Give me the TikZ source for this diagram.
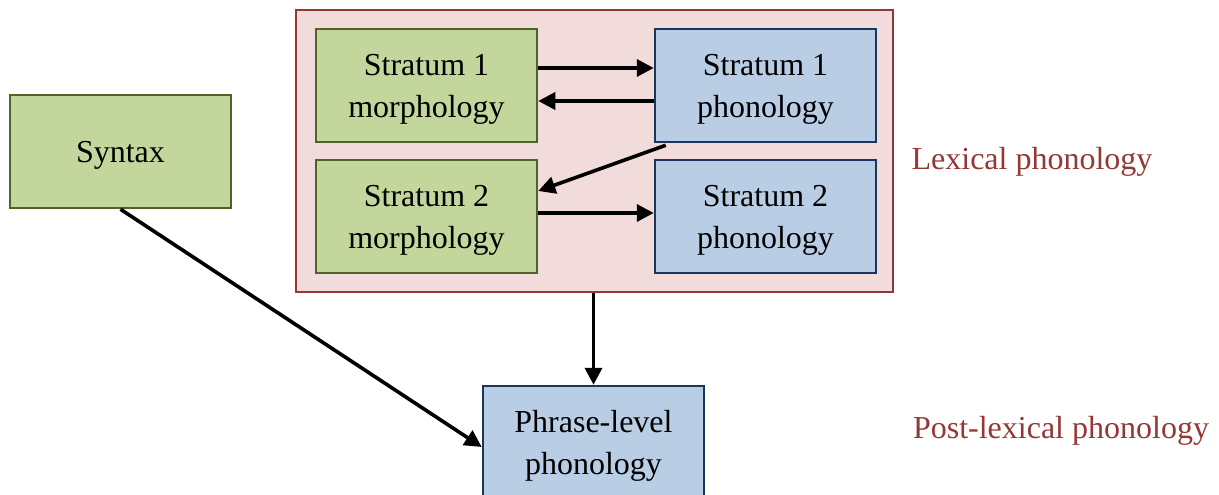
\documentclass[tikz,border=0pt]{standalone}
\usepackage{fontspec}
\setmainfont{Liberation Serif}
\usetikzlibrary{arrows.meta}
\definecolor{pinkfill}{HTML}{F2DCDB}
\definecolor{redline}{HTML}{953735}
\definecolor{greenfill}{HTML}{C3D69B}
\definecolor{greenline}{HTML}{4F6228}
\definecolor{bluefill}{HTML}{B9CDE5}
\definecolor{blueline}{HTML}{17375E}
\begin{document}
\begin{tikzpicture}[x=1pt,y=-1pt,
  box/.style={rectangle,line width=2.5pt,minimum width=221pt,minimum height=113pt,inner sep=0pt},
  gbox/.style={box,draw=greenline,fill=greenfill},
  bbox/.style={box,draw=blueline,fill=bluefill},
  txt/.style={align=center,inner sep=0pt,font=\fontsize{32}{42}\selectfont,yshift=-3.5pt},
  arr/.style={line width=3.6pt,-{Triangle[length=17pt,width=17pt]}},
  lbl/.style={text=redline,font=\fontsize{32}{42}\selectfont,inner sep=0pt}]
\useasboundingbox (0,0) rectangle (1219,495);
\node[draw=redline,fill=pinkfill,line width=2.5pt,minimum width=597pt,minimum height=282pt,inner sep=0pt] (lex) at (594.5,151) {};
\node[gbox] (s1m) at (426.5,85.5) {};
\node[bbox] (s1p) at (765.5,85.5) {};
\node[gbox] (s2m) at (426.5,216.5) {};
\node[bbox] (s2p) at (765.5,216.5) {};
\node[gbox] (syn) at (120.5,151.5) {};
\node[bbox] (phr) at (593.5,442.5) {};
\node[txt] (s1mt) at (s1m.center) {Stratum 1\\morphology};
\node[txt] (s1pt) at (s1p.center) {Stratum 1\\phonology};
\node[txt] (s2mt) at (s2m.center) {Stratum 2\\morphology};
\node[txt] (s2pt) at (s2p.center) {Stratum 2\\phonology};
\node[txt] (synt) at (syn.center) {Syntax};
\node[txt] (phrt) at (phr.center) {Phrase-level\\phonology};
\node[lbl] (lexl) at (1032,162) {Lexical phonology};
\node[lbl] (postl) at (1061,431) {Post-lexical phonology};
\draw[arr] ([yshift=17.5pt]s1m.east) -- ([yshift=17.5pt]s1p.west);
\draw[arr] ([yshift=-15.5pt]s1p.west) -- ([yshift=-15.5pt]s1m.east);
\draw[arr] ([xshift=12pt,yshift=-2pt]s1p.south west) -- ([yshift=25.5pt]s2m.east);
\draw[arr] ([yshift=3.5pt]s2m.east) -- ([yshift=3.5pt]s2p.west);
\draw[arr] (phr.north |- lex.south) -- (phr.north);
\draw[arr] (syn.south) -- ([yshift=-4.5pt]phr.west);
\end{tikzpicture}
\end{document}
